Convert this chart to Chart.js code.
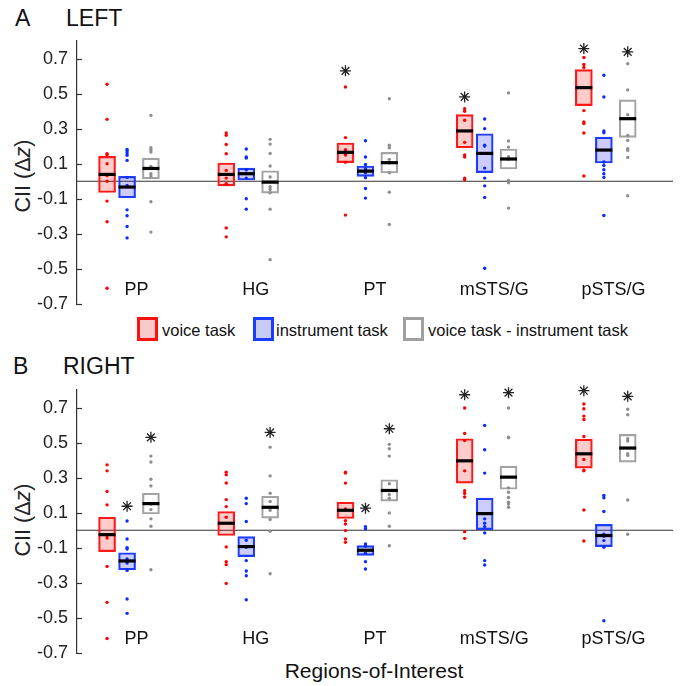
<!DOCTYPE html>
<html>
<head>
<meta charset="utf-8">
<script src="https://cdn.jsdelivr.net/npm/chart.js@4.4.0/dist/chart.umd.min.js"></script>
<style>
  body { margin: 0; background: #fff; font-family: "Liberation Sans", Arial, sans-serif; color: #111; }
  #wrap { position: relative; width: 688px; height: 686px; overflow: hidden; }
  canvas { position: absolute; left: 0; }
  .txt { position: absolute; line-height: 1; white-space: nowrap; }
  .big { font-size: 23px; }
  .ytitle { position: absolute; font-size: 21.5px; line-height: 1; white-space: nowrap; color: #222;
            transform: translate(-50%, -50%) rotate(-90deg); }
  .leg { position: absolute; width: 21px; height: 24px; box-sizing: border-box; border: 3px solid; }
  .legtxt { position: absolute; font-size: 16.5px; line-height: 1; white-space: nowrap; }
</style>
</head>
<body>
<div id="wrap">
  <div class="txt big" style="left:15px;top:7px">A</div>
  <div class="txt big" style="left:66px;top:7px">LEFT</div>
  <div class="ytitle" style="left:24px;top:176px">CII (Δ<i>z</i>)</div>

  <div class="leg" style="left:137px;top:317px;border-color:#ff1010;background:#f9c8c8"></div>
  <div class="legtxt" style="left:162px;top:322px">voice task</div>
  <div class="leg" style="left:253px;top:317px;border-color:#1a3cff;background:#cacaf7"></div>
  <div class="legtxt" style="left:276px;top:322px">instrument task</div>
  <div class="leg" style="left:403px;top:317px;border-color:#a0a0a0;background:#fff"></div>
  <div class="legtxt" style="left:428px;top:322px">voice task - instrument task</div>

  <div class="txt big" style="left:13px;top:355px">B</div>
  <div class="txt big" style="left:63px;top:355px">RIGHT</div>
  <div class="ytitle" style="left:24px;top:520px">CII (Δ<i>z</i>)</div>

  <div class="txt" style="left:0;width:748px;text-align:center;top:660px;font-size:21px">Regions-of-Interest</div>

  <canvas id="left" width="688" height="330" style="top:0"></canvas>
  <canvas id="right" width="688" height="346" style="top:340px"></canvas>
</div>
<script>
const regions = ['PP', 'HG', 'PT', 'mSTS/G', 'pSTS/G'];
const yTicks = [-0.7, -0.5, -0.3, -0.1, 0.1, 0.3, 0.5, 0.7];
const groupNames = ['voice task', 'instrument task', 'voice task - instrument task'];

// ---- LEFT (panel A) ----
const leftVoiceLow = [-0.064, -0.026, 0.106, 0.191, 0.431];
const leftVoiceHigh = [0.142, 0.104, 0.218, 0.380, 0.637];
const leftVoiceMedian = [0.039, 0.039, 0.165, 0.287, 0.534];
const leftVoicePoints = [
  [0.553, 0.353, 0.157, 0.151, 0.100, 0.033, 0.0, -0.113, -0.231, -0.610],
  [0.275, 0.262, 0.21, 0.157, 0.062, 0.018, -0.014, -0.018, -0.266, -0.317],
  [0.538, 0.249, 0.18, 0.167, 0.157, 0.15, 0.108, -0.193],
  [0.414, 0.399, 0.348, 0.222, 0.15, 0.138, 0.018, 0.009],
  [0.706, 0.666, 0.649, 0.403, 0.338, 0.329, 0.275, 0.03],
];
const leftVoiceStars = [null, null, 0.63, 0.481, 0.757];

const leftInstrLow = [-0.094, 0.007, 0.028, 0.049, 0.104];
const leftInstrHigh = [0.028, 0.075, 0.087, 0.271, 0.252];
const leftInstrMedian = [-0.033, 0.043, 0.058, 0.159, 0.178];
const leftInstrPoints = [
  [0.182, 0.172, 0.161, 0.148, 0.119, 0.022, -0.024, -0.163, -0.197, -0.258, -0.323],
  [0.184, 0.138, 0.132, 0.066, 0.045, 0.018, -0.1, -0.159],
  [0.231, 0.138, 0.096, 0.071, 0.06, 0.049, 0.02, -0.041, -0.096],
  [0.355, 0.3, 0.206, 0.201, 0.075, 0.018, -0.026, -0.092, -0.496],
  [0.605, 0.481, 0.287, 0.277, 0.11, 0.09, 0.066, 0.043, 0.022, -0.195],
];
const leftInstrStars = [null, null, null, null, null];

const leftDiffLow = [0.014, -0.068, 0.047, 0.07, 0.25];
const leftDiffHigh = [0.132, 0.06, 0.165, 0.184, 0.464];
const leftDiffMedian = [0.073, -0.005, 0.106, 0.127, 0.357];
const leftDiffPoints = [
  [0.376, 0.191, 0.18, 0.167, 0.085, 0.043, 0.03, -0.117, -0.29],
  [0.239, 0.212, 0.159, 0.087, 0.024, -0.031, -0.047, -0.066, -0.159, -0.447],
  [0.471, 0.205, 0.191, 0.125, 0.104, 0.049, -0.062, -0.247],
  [0.504, 0.23, 0.195, 0.14, 0.125, 0.005, -0.009, -0.153],
  [0.67, 0.521, 0.38, 0.262, 0.233, 0.186, 0.176, 0.136, -0.083],
];
const leftDiffStars = [null, null, null, null, 0.738];

// ---- RIGHT (panel B) ----
const rightVoiceLow = [-0.122, -0.03, 0.067, 0.269, 0.354];
const rightVoiceHigh = [0.074, 0.107, 0.16, 0.522, 0.52];
const rightVoiceMedian = [-0.025, 0.04, 0.114, 0.396, 0.436];
const rightVoicePoints = [
  [0.373, 0.339, 0.221, 0.145, -0.03, -0.044, -0.206, -0.411, -0.617],
  [0.331, 0.316, 0.27, 0.175, 0.135, 0.074, -0.095, -0.179, -0.196, -0.303],
  [0.331, 0.326, 0.269, 0.122, 0.055, 0.036, -0.002, -0.05, -0.069],
  [0.697, 0.552, 0.512, 0.339, 0.225, 0.21, 0.19, -0.008, -0.046],
  [0.72, 0.693, 0.651, 0.632, 0.535, 0.404, 0.343, 0.339, 0.116, -0.061],
];
const rightVoiceStars = [null, null, null, 0.773, 0.796];

const rightInstrLow = [-0.225, -0.15, -0.143, 0.004, -0.093];
const rightInstrHigh = [-0.128, -0.036, -0.088, 0.183, 0.034];
const rightInstrMedian = [-0.175, -0.093, -0.114, 0.095, -0.03];
const rightInstrPoints = [
  [0.053, -0.05, -0.099, -0.107, -0.164, -0.187, -0.229, -0.392, -0.474],
  [0.183, 0.152, 0.05, -0.057, -0.097, -0.173, -0.232, -0.259, -0.396],
  [0.021, 0.008, -0.078, -0.091, -0.131, -0.179, -0.221],
  [0.598, 0.459, 0.326, 0.065, 0.04, 0.021, -0.015, -0.173, -0.198],
  [0.198, 0.185, 0.107, -0.023, -0.034, -0.059, -0.097, -0.516],
];
const rightInstrStars = [0.137, null, 0.126, null, null];

const rightDiffLow = [0.093, 0.069, 0.166, 0.234, 0.389];
const rightDiffHigh = [0.211, 0.194, 0.288, 0.366, 0.547];
const rightDiffMedian = [0.152, 0.131, 0.227, 0.303, 0.469];
const rightDiffPoints = [
  [0.423, 0.389, 0.291, 0.253, 0.15, 0.118, 0.065, 0.023, -0.225],
  [0.474, 0.31, 0.211, 0.164, 0.114, 0.061, -0.006, -0.248],
  [0.49, 0.465, 0.423, 0.265, 0.204, 0.183, 0.099, 0.023, -0.088],
  [0.697, 0.531, 0.528, 0.242, 0.217, 0.187, 0.16, 0.15, 0.131],
  [0.69, 0.659, 0.522, 0.509, 0.436, 0.427, 0.173, -0.023],
];
const rightDiffStars = [0.53, 0.558, 0.579, 0.785, 0.764];

// styling
const FONT = '"Liberation Sans", Arial, sans-serif';
const groupOffset = [-0.168, 0, 0.2];
const boxFill = ['rgba(255,0,0,0.2)', 'rgba(0,0,255,0.2)', 'rgba(255,255,255,0)'];
const boxEdge = ['#ff1a1a', '#1f3fff', '#a3a3a3'];
const dotColor = ['#ff0000', '#0a2cff', '#8e8e8e'];
const xMin = 0.58, xMax = 5.58;
const labelShift = 0.08, labelY = -0.62;

// region names sit inside the plot, plus short inward y ticks
const regionLabels = {
  id: 'regionLabels',
  afterDatasetsDraw(chart) {
    const {ctx, chartArea, scales: {x, y}} = chart;
    ctx.save();
    ctx.font = '18px ' + FONT;
    ctx.fillStyle = '#111';
    ctx.textAlign = 'center';
    ctx.textBaseline = 'middle';
    regions.forEach((r, i) => {
      ctx.fillText(r, x.getPixelForValue(i + 1 + labelShift), y.getPixelForValue(labelY));
    });
    ctx.strokeStyle = '#333';
    ctx.lineWidth = 1.2;
    yTicks.forEach((v) => {
      const py = Math.round(y.getPixelForValue(v)) + 0.5;
      ctx.beginPath();
      ctx.moveTo(chartArea.left, py);
      ctx.lineTo(chartArea.left + 5, py);
      ctx.stroke();
    });
    ctx.restore();
  },
};

function groupDatasets(g, low, high, median, points, stars) {
  const xs = regions.map((r, i) => i + 1 + groupOffset[g]);
  return [
    {
      type: 'bar',
      label: groupNames[g],
      data: xs.map((x, i) => ({x: x, y: [low[i], high[i]]})),
      backgroundColor: boxFill[g],
      borderColor: boxEdge[g],
      borderWidth: 1.5,
      borderSkipped: false,
      barThickness: 17,
      grouped: false,
      order: 5,
    },
    {
      type: 'scatter',
      data: points.flatMap((vals, i) => vals.map((v) => ({x: xs[i], y: v}))),
      pointRadius: 1.7,
      pointBackgroundColor: dotColor[g],
      pointBorderWidth: 0,
      clip: false,
      order: 3,
    },
    {
      type: 'scatter',
      data: xs.map((x, i) => ({x: x, y: median[i]})),
      pointStyle: 'line',
      pointRadius: 8.5,
      pointBorderColor: '#000',
      pointBorderWidth: 3.2,
      order: 2,
    },
    {
      type: 'scatter',
      data: xs.map((x, i) => ({x: x, y: stars[i]})).filter((p) => p.y != null),
      pointStyle: 'star',
      pointRadius: 5.5,
      pointBorderColor: '#222',
      pointBorderWidth: 1.3,
      clip: false,
      order: 1,
    },
  ];
}

function drawPanel(id, groups, padTop, padBottom) {
  const datasets = [
    {
      type: 'line',
      data: [{x: xMin, y: 0}, {x: xMax, y: 0}],
      borderColor: '#333',
      borderWidth: 1.2,
      pointRadius: 0,
      order: 6,
    },
  ];
  groups.forEach((g, i) => datasets.push(...groupDatasets(i, ...g)));

  // y axis box = widest label (~31) + 2 * tick padding -> plot starts at x=77
  return new Chart(document.getElementById(id), {
    type: 'bar',
    data: {datasets: datasets},
    plugins: [regionLabels],
    options: {
      responsive: false,
      animation: false,
      events: [],
      layout: {padding: {left: 28, right: 15, top: padTop, bottom: padBottom}},
      plugins: {legend: {display: false}, tooltip: {enabled: false}},
      scales: {
        x: {type: 'linear', min: xMin, max: xMax, offset: false, display: false},
        y: {
          type: 'linear',
          min: -0.7,
          max: 0.8,
          afterBuildTicks: (s) => { s.ticks = yTicks.map((v) => ({value: v})); },
          ticks: {
            font: {family: FONT, size: 18},
            color: '#222',
            padding: 9,
            callback: (v) => Number(v).toFixed(1),
          },
          grid: {drawOnChartArea: false, drawTicks: false},
          border: {display: true, color: '#333', width: 1.2},
        },
      },
    },
  });
}

drawPanel('left', [
  [leftVoiceLow, leftVoiceHigh, leftVoiceMedian, leftVoicePoints, leftVoiceStars],
  [leftInstrLow, leftInstrHigh, leftInstrMedian, leftInstrPoints, leftInstrStars],
  [leftDiffLow, leftDiffHigh, leftDiffMedian, leftDiffPoints, leftDiffStars],
], 41, 26);

drawPanel('right', [
  [rightVoiceLow, rightVoiceHigh, rightVoiceMedian, rightVoicePoints, rightVoiceStars],
  [rightInstrLow, rightInstrHigh, rightInstrMedian, rightInstrPoints, rightInstrStars],
  [rightDiffLow, rightDiffHigh, rightDiffMedian, rightDiffPoints, rightDiffStars],
], 50, 33);
</script>
</body>
</html>
